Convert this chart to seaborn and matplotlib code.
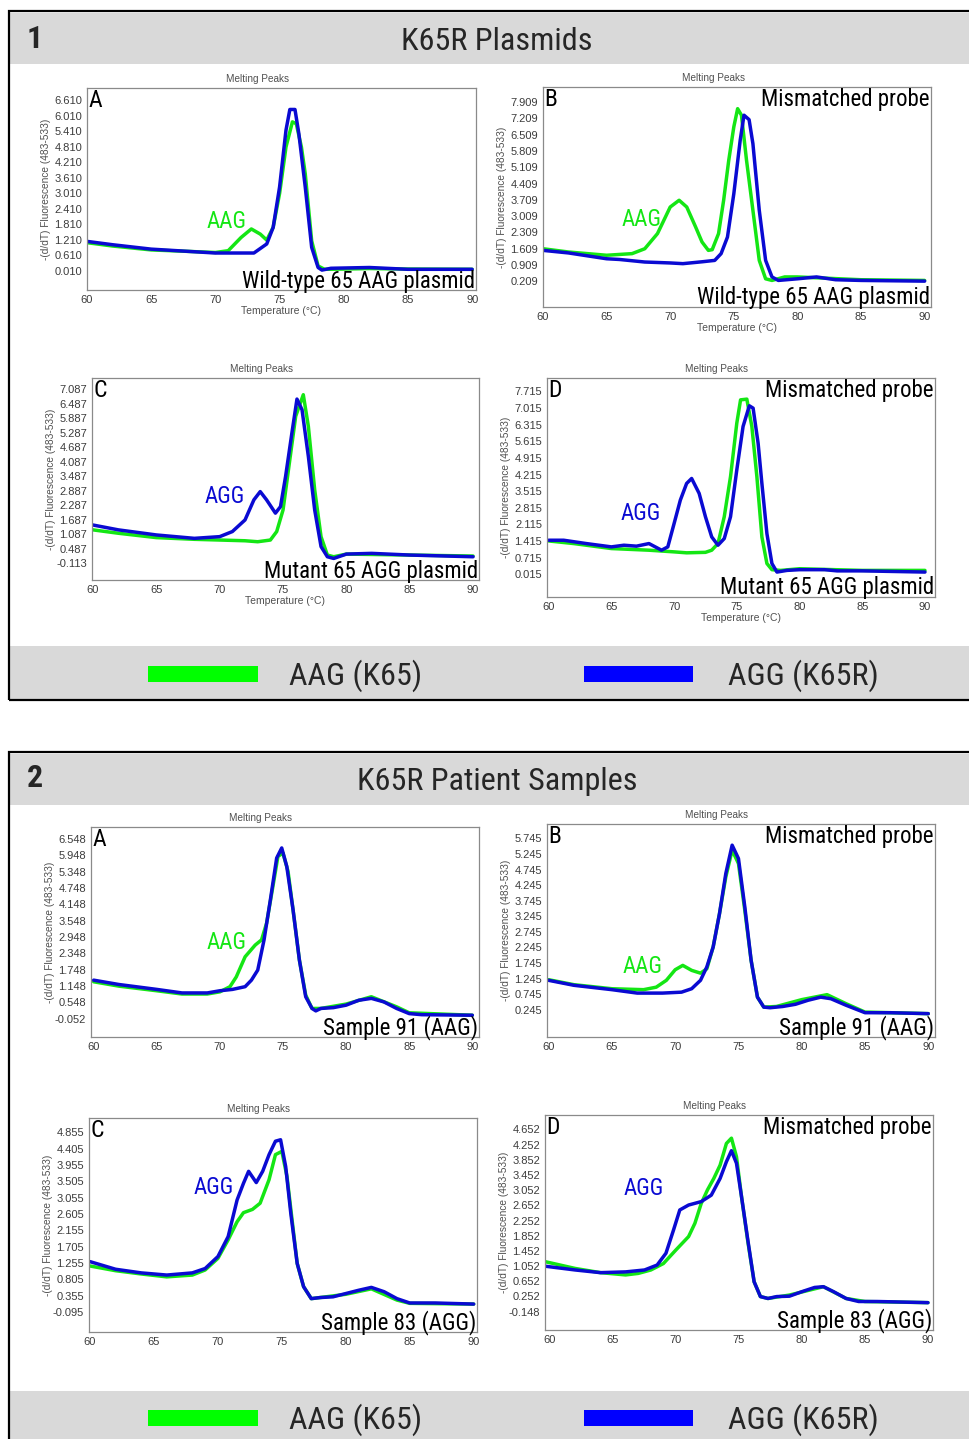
import numpy as np
import pandas as pd
import matplotlib
matplotlib.use("Agg")
import matplotlib.pyplot as plt
from matplotlib import font_manager
import seaborn as sns
from matplotlib.patches import Rectangle

# ---------------- data ----------------
t_1A_green = [60, 62, 65, 68, 70, 71, 72, 72.8, 73.5, 74, 74.5, 75, 75.5, 76, 76.3, 76.7, 77, 77.5, 78, 78.5, 80, 82, 85, 90]
y_1A_green = [1.10, 0.97, 0.82, 0.76, 0.72, 0.79, 1.30, 1.63, 1.43, 1.20, 1.69, 3.00, 4.80, 5.77, 5.70, 4.80, 3.76, 1.17, 0.20, 0.07, 0.08, 0.10, 0.08, 0.07]
t_1A_blue = [60, 62, 65, 68, 70, 73, 74, 74.5, 75, 75.5, 75.8, 76.2, 76.5, 77, 77.5, 78, 78.3, 79, 82, 85, 90]
y_1A_blue = [1.15, 1.02, 0.85, 0.76, 0.70, 0.70, 1.05, 1.69, 3.25, 5.45, 6.25, 6.25, 5.32, 3.25, 0.92, 0.14, 0.04, 0.11, 0.14, 0.07, 0.07]

t_1B_green = [60, 62, 65, 67, 68, 69, 70, 70.7, 71.3, 72, 72.5, 73, 73.3, 73.8, 74.2, 74.6, 75, 75.3, 75.6, 76, 76.5, 77, 77.5, 78, 79, 80, 85, 90]
y_1B_green = [1.61, 1.47, 1.33, 1.40, 1.61, 2.26, 3.40, 3.69, 3.40, 2.54, 1.90, 1.54, 1.57, 2.26, 3.69, 5.40, 6.84, 7.62, 7.34, 5.40, 3.26, 1.11, 0.32, 0.25, 0.40, 0.40, 0.28, 0.25]
t_1B_blue = [60, 62, 65, 66, 68, 70, 71, 72.5, 73.5, 74, 74.5, 75, 75.5, 75.8, 76.2, 76.5, 77, 77.5, 78, 78.5, 80, 81.5, 83, 85, 90]
y_1B_blue = [1.54, 1.43, 1.18, 1.15, 1.04, 1.00, 0.97, 1.05, 1.11, 1.40, 2.11, 3.97, 6.26, 7.34, 7.15, 6.12, 3.26, 1.11, 0.40, 0.25, 0.32, 0.40, 0.28, 0.25, 0.22]

t_1C_green = [60, 62, 65, 68, 70, 72, 73, 74, 74.5, 75, 75.5, 76, 76.6, 77, 77.5, 78, 78.5, 79, 80, 85, 90]
y_1C_green = [1.27, 1.13, 0.95, 0.88, 0.85, 0.82, 0.78, 0.85, 1.20, 2.09, 4.03, 5.96, 6.85, 5.54, 2.92, 0.99, 0.23, 0.16, 0.27, 0.23, 0.19]
t_1C_blue = [60, 62, 65, 68, 70, 71, 72, 72.7, 73.2, 73.7, 74.4, 74.8, 75.2, 75.7, 76.1, 76.5, 77, 77.5, 78, 78.5, 79, 80, 82, 85, 90]
y_1C_blue = [1.47, 1.27, 1.06, 0.92, 0.99, 1.20, 1.68, 2.51, 2.85, 2.51, 1.96, 2.23, 3.47, 5.27, 6.67, 6.23, 4.30, 2.09, 0.58, 0.16, 0.09, 0.27, 0.30, 0.23, 0.16]

t_1D_green = [60, 62, 65, 68, 70, 71, 72.5, 73, 73.5, 74, 74.5, 75, 75.3, 75.8, 76.2, 76.6, 77, 77.4, 77.8, 78.5, 80, 85, 90]
y_1D_green = [1.42, 1.31, 1.10, 1.03, 0.96, 0.92, 0.94, 1.03, 1.31, 2.44, 4.13, 6.38, 7.36, 7.39, 6.24, 4.13, 1.59, 0.47, 0.21, 0.18, 0.25, 0.18, 0.18]
t_1D_blue = [60, 61.2, 63, 65, 66, 67, 68, 68.5, 69, 69.5, 70, 70.5, 71, 71.4, 72, 72.5, 73, 73.5, 74, 74.5, 75, 75.5, 76, 76.3, 76.7, 77, 77.4, 77.8, 78.2, 79, 80, 82, 83, 85, 90]
y_1D_blue = [1.45, 1.45, 1.31, 1.17, 1.24, 1.20, 1.31, 1.17, 1.03, 1.17, 2.15, 3.14, 3.84, 4.05, 3.42, 2.44, 1.59, 1.24, 1.52, 2.44, 4.41, 6.24, 7.11, 7.01, 5.53, 3.84, 1.73, 0.47, 0.11, 0.18, 0.21, 0.21, 0.16, 0.16, 0.11]

t_2A_green = [60, 62, 65, 67, 69, 70, 70.8, 71.3, 72, 72.8, 73.3, 73.7, 74.2, 74.6, 75, 75.4, 75.8, 76.3, 76.8, 77.3, 78, 80, 82, 84, 85, 90]
y_2A_green = [1.30, 1.14, 0.97, 0.85, 0.85, 0.93, 1.12, 1.48, 2.22, 2.65, 2.84, 3.45, 4.80, 5.91, 6.03, 5.36, 3.94, 2.10, 0.81, 0.32, 0.32, 0.48, 0.75, 0.38, 0.16, 0.07]
t_2A_blue = [60, 62, 65, 67, 69, 70, 71, 72, 72.5, 73, 73.5, 74, 74.5, 74.9, 75.3, 75.8, 76.3, 76.8, 77.3, 77.6, 78, 79, 80, 81, 82, 83, 84, 85, 86, 90]
y_2A_blue = [1.36, 1.20, 1.02, 0.89, 0.89, 0.97, 1.02, 1.12, 1.36, 1.73, 2.84, 4.31, 5.85, 6.22, 5.54, 3.94, 2.10, 0.75, 0.32, 0.23, 0.32, 0.35, 0.44, 0.62, 0.69, 0.56, 0.32, 0.13, 0.09, 0.07]

t_2B_green = [60, 62, 65, 67.5, 68.5, 69.3, 70, 70.6, 71.3, 72, 72.5, 73, 73.5, 74, 74.5, 75, 75.5, 76, 76.5, 77, 78, 80, 82, 83.5, 85, 90]
y_2B_green = [1.21, 1.05, 0.92, 0.89, 0.97, 1.19, 1.53, 1.67, 1.51, 1.42, 1.56, 2.26, 3.33, 4.51, 5.37, 4.94, 3.44, 1.83, 0.65, 0.33, 0.35, 0.57, 0.73, 0.44, 0.17, 0.12]
t_2B_blue = [60, 62, 65, 67, 69, 70.5, 71.3, 72, 72.5, 73, 73.5, 74, 74.5, 75, 75.5, 76, 76.5, 77, 77.5, 78.5, 79.5, 80.5, 81.5, 82.3, 83.5, 85, 87, 90]
y_2B_blue = [1.19, 1.03, 0.89, 0.78, 0.78, 0.81, 0.92, 1.19, 1.62, 2.26, 3.33, 4.62, 5.53, 5.10, 3.55, 1.83, 0.65, 0.33, 0.31, 0.35, 0.42, 0.55, 0.65, 0.60, 0.39, 0.15, 0.15, 0.12]

t_2C_green = [60, 62, 64, 66, 68, 69, 70, 70.8, 71.5, 72, 72.7, 73.3, 74, 74.5, 75, 75.4, 75.8, 76.2, 76.7, 77.3, 78, 80, 82, 84, 85, 90]
y_2C_green = [1.17, 1.04, 0.95, 0.87, 0.92, 1.06, 1.38, 1.89, 2.39, 2.64, 2.73, 2.90, 3.55, 4.24, 4.33, 3.64, 2.44, 1.24, 0.60, 0.27, 0.30, 0.39, 0.54, 0.23, 0.14, 0.12]
t_2C_blue = [60, 62, 64, 66, 68, 69, 70, 70.8, 71.5, 72, 72.4, 73, 73.5, 74, 74.5, 74.9, 75.3, 75.7, 76.2, 76.7, 77.3, 78, 79, 80, 81, 82, 83, 84, 85, 87, 90]
y_2C_blue = [1.29, 1.08, 0.98, 0.92, 0.98, 1.10, 1.43, 1.98, 2.99, 3.45, 3.78, 3.47, 3.78, 4.24, 4.61, 4.65, 3.91, 2.62, 1.24, 0.60, 0.27, 0.30, 0.32, 0.41, 0.50, 0.58, 0.46, 0.27, 0.15, 0.15, 0.12]

t_2D_green = [59.6, 62, 64, 66, 67, 68, 69, 70, 71, 71.5, 72, 72.5, 73, 73.5, 74, 74.4, 74.8, 75.2, 75.7, 76.2, 76.7, 77.3, 79, 81.7, 83.5, 85, 90]
y_2D_green = [1.17, 0.99, 0.88, 0.82, 0.86, 0.95, 1.12, 1.48, 1.83, 2.18, 2.70, 3.06, 3.36, 3.71, 4.28, 4.42, 3.93, 2.88, 1.70, 0.64, 0.25, 0.20, 0.29, 0.51, 0.20, 0.12, 0.09]
t_2D_blue = [59.6, 62, 64, 66, 67.5, 68.5, 69.2, 69.8, 70.3, 71, 72, 72.8, 73.5, 74, 74.4, 74.8, 75.2, 75.7, 76.2, 76.7, 77.3, 78, 79, 80, 81, 81.7, 82.5, 83.5, 84.5, 86, 90]
y_2D_blue = [1.05, 0.95, 0.88, 0.90, 0.95, 1.08, 1.39, 2.00, 2.53, 2.66, 2.75, 2.92, 3.36, 3.80, 4.09, 3.76, 2.88, 1.74, 0.64, 0.25, 0.20, 0.25, 0.26, 0.38, 0.49, 0.51, 0.38, 0.20, 0.12, 0.12, 0.09]

# y tick labels of each panel (first value, step, count)
yticks_1A = (0.010, 0.6, 12)
yticks_1B = (0.209, 0.7, 12)
yticks_1C = (-0.113, 0.6, 13)
yticks_1D = (0.015, 0.7, 12)
yticks_2A = (-0.052, 0.6, 12)
yticks_2B = (0.245, 0.5, 12)
yticks_2C = (-0.095, 0.45, 12)
yticks_2D = (-0.148, 0.4, 13)
xticks = [60, 65, 70, 75, 80, 85, 90]

section_titles = ["K65R Plasmids", "K65R Patient Samples"]
legend_labels = ["AAG (K65)", "AGG (K65R)"]

# ---------------- styling ----------------
sns.set_theme(style="white")
plt.rcParams["font.family"] = ["Liberation Sans", "DejaVu Sans"]
plt.rcParams["axes.unicode_minus"] = False

_names = {f.name for f in font_manager.fontManager.ttflist}
_condensed = [n for n in ["Liberation Sans Narrow", "DejaVu Sans Condensed", "Roboto Condensed",
                          "Open Sans Condensed"] if n in _names]
if _condensed:
    NARROW = [_condensed[0], "DejaVu Sans"]
    SCALE = 1.1
else:
    NARROW = ["Open Sans", "DejaVu Sans"]
    SCALE = 0.92

GREEN = "#14e614"
BLUE = "#0a0ad2"
GRAY_BAND = "#d9d9d9"

W, H = 970, 1439
fig = plt.figure(figsize=(W / 100, H / 100), dpi=100)
fig.patch.set_facecolor("white")


def fx(x):
    return x / W


def fy(y):
    return 1 - y / H


def rect(x0, y0, x1, y1, **kw):
    fig.patches.append(Rectangle((fx(x0), fy(y1)), fx(x1) - fx(x0), fy(y0) - fy(y1),
                                 transform=fig.transFigure, **kw))


# section boxes, header and legend bands
for (top, bottom) in [(11, 700), (752, 1445)]:
    rect(10, top + 2, 972, top + 53, facecolor=GRAY_BAND, edgecolor="none", zorder=0)
    rect(10, bottom - 54, 972, bottom - 1, facecolor=GRAY_BAND, edgecolor="none", zorder=0)
    rect(9, top, 975, bottom, facecolor="none", edgecolor="black", linewidth=1.6, zorder=5)

BIG = 21.0 * SCALE
fig.text(fx(35), fy(39), "1", fontsize=23, fontweight="bold", ha="center", va="center", family=NARROW)
fig.text(fx(497), fy(41), section_titles[0], fontsize=BIG, ha="center", va="center", family=NARROW)
fig.text(fx(35), fy(778), "2", fontsize=23, fontweight="bold", ha="center", va="center", family=NARROW)
fig.text(fx(497), fy(782), section_titles[1], fontsize=BIG, ha="center", va="center", family=NARROW)

for yc in [674, 1418]:
    rect(148, yc - 8, 258, yc + 8, facecolor="#00ff00", edgecolor="none", zorder=2)
    rect(584, yc - 8, 693, yc + 8, facecolor="#0000ff", edgecolor="none", zorder=2)
    fig.text(fx(289), fy(yc + 2), legend_labels[0], fontsize=BIG, ha="left", va="center", family=NARROW)
    fig.text(fx(728), fy(yc + 2), legend_labels[1], fontsize=BIG, ha="left", va="center", family=NARROW)

panels = [
    dict(key="1A", box=(87, 88, 476, 290), xlim=(60, 90.3), ylim=(-0.73, 7.08), yt=yticks_1A,
         tg=t_1A_green, yg=y_1A_green, tb=t_1A_blue, yb=y_1A_blue, letter="A", probe=False,
         ann=("AAG", GREEN, 0.36, 0.337), bottom="Wild-type 65 AAG plasmid", xlabel=True),
    dict(key="1B", box=(543, 87, 931, 307), xlim=(60, 90.5), ylim=(-0.89, 8.55), yt=yticks_1B,
         tg=t_1B_green, yg=y_1B_green, tb=t_1B_blue, yb=y_1B_blue, letter="B", probe=True,
         ann=("AAG", GREEN, 0.253, 0.40), bottom="Wild-type 65 AAG plasmid", xlabel=True),
    dict(key="1C", box=(92, 378, 479, 580), xlim=(59.92, 90.47), ylim=(-0.80, 7.54), yt=yticks_1C,
         tg=t_1C_green, yg=y_1C_green, tb=t_1C_blue, yb=y_1C_blue, letter="C", probe=False,
         ann=("AGG", BLUE, 0.344, 0.411), bottom="Mutant 65 AGG plasmid", xlabel=True),
    dict(key="1D", box=(547, 378, 935, 597), xlim=(59.87, 90.8), ylim=(-0.94, 8.28), yt=yticks_1D,
         tg=t_1D_green, yg=y_1D_green, tb=t_1D_blue, yb=y_1D_blue, letter="D", probe=True,
         ann=("AGG", BLUE, 0.242, 0.379), bottom="Mutant 65 AGG plasmid", xlabel=True),
    dict(key="2A", box=(91, 827, 479, 1037), xlim=(59.79, 90.53), ylim=(-0.73, 6.99), yt=yticks_2A,
         tg=t_2A_green, yg=y_2A_green, tb=t_2A_blue, yb=y_2A_blue, letter="A", probe=False,
         ann=("AAG", GREEN, 0.35, 0.452), bottom="Sample 91 (AAG)", xlabel=False),
    dict(key="2B", box=(547, 824, 935, 1037), xlim=(59.87, 90.53), ylim=(-0.63, 6.21), yt=yticks_2B,
         tg=t_2B_green, yg=y_2B_green, tb=t_2B_blue, yb=y_2B_blue, letter="B", probe=True,
         ann=("AAG", GREEN, 0.247, 0.329), bottom="Sample 91 (AAG)", xlabel=False),
    dict(key="2C", box=(89, 1118, 477, 1332), xlim=(59.92, 90.26), ylim=(-0.65, 5.25), yt=yticks_2C,
         tg=t_2C_green, yg=y_2C_green, tb=t_2C_blue, yb=y_2C_blue, letter="C", probe=False,
         ann=("AGG", BLUE, 0.322, 0.673), bottom="Sample 83 (AGG)", xlabel=False),
    dict(key="2D", box=(545, 1115, 933, 1330), xlim=(59.6, 90.4), ylim=(-0.63, 5.03), yt=yticks_2D,
         tg=t_2D_green, yg=y_2D_green, tb=t_2D_blue, yb=y_2D_blue, letter="D", probe=True,
         ann=("AGG", BLUE, 0.255, 0.66), bottom="Sample 83 (AGG)", xlabel=False),
]

TICK_GRAY = "#3c3c3c"
MID = 15.0 * SCALE
for p in panels:
    l, t, r, b = p["box"]
    wpx = r - l
    ax = fig.add_axes([fx(l), fy(b), fx(r) - fx(l), fy(t) - fy(b)])
    ax.set_facecolor("white")
    df = pd.concat([
        pd.DataFrame({"Temperature": p["tg"], "Signal": p["yg"], "Genotype": "AAG"}),
        pd.DataFrame({"Temperature": p["tb"], "Signal": p["yb"], "Genotype": "AGG"}),
    ], ignore_index=True)
    sns.lineplot(data=df, x="Temperature", y="Signal", hue="Genotype",
                 palette={"AAG": GREEN, "AGG": BLUE}, linewidth=2.5, legend=False,
                 sort=False, estimator=None, ax=ax)
    ax.set_xlim(*p["xlim"])
    ax.set_ylim(*p["ylim"])
    y0, step, n = p["yt"]
    ticks = [round(y0 + i * step, 3) for i in range(n)]
    ax.set_yticks(ticks)
    ax.set_yticklabels([f"{v:.3f}" for v in ticks])
    ax.set_xticks(xticks)
    ax.set_xticklabels([str(v) for v in xticks])
    ax.tick_params(axis="both", which="major", direction="out", length=2.5, width=0.6,
                   colors="#808080", labelcolor=TICK_GRAY, labelsize=8, pad=1)
    for s in ax.spines.values():
        s.set_color("#8a8a8a")
        s.set_linewidth(0.9)
    ax.set_title("Melting Peaks", fontsize=7.2, color="#505050", pad=4, x=0.5 - 24 / wpx)
    ax.set_ylabel("-(d/dT) Fluorescence (483-533)", fontsize=7.3, color="#505050")
    ax.yaxis.set_label_coords(-36 / wpx, 0.5)
    if p["xlabel"]:
        ax.set_xlabel("Temperature (°C)", fontsize=7.5, color="#505050", labelpad=1)
    else:
        ax.set_xlabel("")
    ax.text(0.004, 0.995, p["letter"], transform=ax.transAxes, ha="left", va="top",
            fontsize=17, family=NARROW, color="black")
    if p["probe"]:
        ax.text(0.997, 0.995, "Mismatched probe", transform=ax.transAxes, ha="right", va="top",
                fontsize=MID, family=NARROW, color="black")
    ax.text(0.997, 0.012, p["bottom"], transform=ax.transAxes, ha="right", va="baseline",
            fontsize=MID, family=NARROW, color="black", clip_on=False)
    txt, col, axx, axy = p["ann"]
    ax.text(axx, axy, txt, transform=ax.transAxes, ha="center", va="center",
            fontsize=MID, family=NARROW, color=col)

fig.savefig("out.png", dpi=100, facecolor="white")
